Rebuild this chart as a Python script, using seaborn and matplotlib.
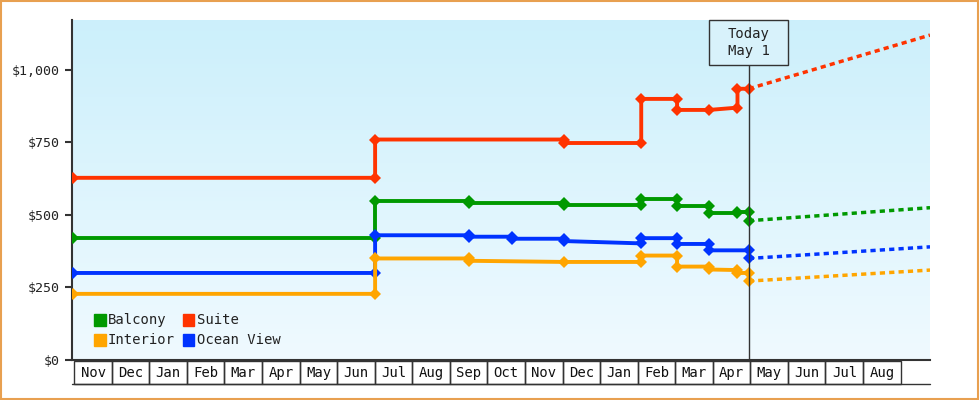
import matplotlib
matplotlib.use("Agg")
import matplotlib.pyplot as plt
import seaborn as sns
import numpy as np
import pandas as pd
from matplotlib.patches import Rectangle
from matplotlib.transforms import blended_transform_factory

months = ["Nov","Dec","Jan","Feb","Mar","Apr","May","Jun","Jul","Aug","Sep","Oct",
          "Nov","Dec","Jan","Feb","Mar","Apr","May","Jun","Jul","Aug"]

suite_x = [0, 8, 8, 13.0, 13.0, 15.05, 15.05, 16.0, 16.0, 16.85, 17.6, 17.6, 17.9]
suite_y = [628, 628, 760, 760, 748, 748, 900, 900, 862, 862, 870, 935, 935]
balc_x = [0, 8, 8, 10.5, 10.5, 13.0, 13.0, 15.05, 15.05, 16.0, 16.0, 16.85, 16.85, 17.6, 17.6, 17.9, 17.9]
balc_y = [420, 420, 548, 548, 540, 540, 535, 535, 555, 555, 530, 530, 507, 507, 510, 510, 480]
ocean_x = [0, 8, 8, 10.5, 10.5, 11.63, 11.63, 13.0, 13.0, 15.05, 15.05, 16.0, 16.0, 16.85, 16.85, 17.9, 17.9]
ocean_y = [300, 300, 430, 430, 425, 425, 418, 418, 410, 402, 420, 420, 400, 400, 378, 378, 350]
inter_x = [0, 8, 8, 10.5, 10.5, 13.0, 15.05, 15.05, 16.0, 16.0, 16.85, 16.85, 17.6, 17.6, 17.9, 17.9]
inter_y = [228, 228, 350, 350, 342, 338, 338, 360, 360, 322, 322, 312, 310, 300, 300, 272]
proj_x = [17.9, 22.7]
proj = {"Suite": [935, 1120], "Balcony": [480, 525], "Ocean View": [350, 390], "Interior": [272, 310]}

colors = {"Balcony": "#009900", "Suite": "#ff3300", "Interior": "#ffa500", "Ocean View": "#0033ff"}

sns.set_style("white")
plt.rcParams['font.family'] = ['DejaVu Sans Mono']

fig = plt.figure(figsize=(9.8, 4.0), dpi=100)
fig.patch.set_facecolor("white")
fig.add_artist(Rectangle((0.001, 0.002), 0.997, 0.995, transform=fig.transFigure,
                         fill=False, edgecolor="#e8a050", lw=1.5))
ax = fig.add_axes([72/980, 40/400, 858/980, 340/400])
xmin, xmax = -0.03, 22.7
ax.set_xlim(xmin, xmax)
ax.set_ylim(0, 1172)
grad = np.linspace(1, 0, 256).reshape(-1, 1)
top = np.array([0.80, 0.94, 0.985]); bot = np.array([0.94, 0.98, 1.0])
img = bot + (top - bot) * grad[..., None]
ax.imshow(img, extent=[xmin, xmax, 0, 1172], aspect="auto", zorder=0)

series = [("Suite", suite_x, suite_y), ("Balcony", balc_x, balc_y),
          ("Ocean View", ocean_x, ocean_y), ("Interior", inter_x, inter_y)]
for name, xs, ys in series:
    df = pd.DataFrame({"x": xs, "y": ys})
    sns.lineplot(data=df, x="x", y="y", sort=False, estimator=None, ax=ax,
                 color=colors[name], lw=2.8, marker="D", markersize=6,
                 markeredgewidth=0, zorder=3)
    sns.lineplot(x=proj_x, y=proj[name], ax=ax, color=colors[name], lw=2.5,
                 linestyle=(0, (1.5, 1.2)), zorder=3)

ax.axvline(17.9, ymin=0, ymax=(1172-155)/1172, color="#333333", lw=1, zorder=4)
# Today box (80 x 40 px)
ax.add_patch(Rectangle((17.9 - 1.05, 1017), 2.1, 155, fc="#d8f2fb", ec="#333333", lw=1,
                       zorder=5, clip_on=False))
ax.text(17.9, 1095, "Today\nMay 1", ha="center", va="center", fontsize=10,
        linespacing=1.3, zorder=6, color="#222222")

ax.set_yticks([0, 250, 500, 750, 1000])
ax.set_yticklabels(["$0", "$250", "$500", "$750", "$1,000"], fontsize=9.5, color="#222222")
ax.tick_params(axis="y", length=5, width=1.5, color="#333333", left=True)
ax.set_xticks([])
ax.set_xlabel(""); ax.set_ylabel("")
for s in ["top", "right"]:
    ax.spines[s].set_visible(False)
ax.spines["left"].set_color("#333333"); ax.spines["left"].set_linewidth(1.5)
ax.spines["bottom"].set_color("#333333"); ax.spines["bottom"].set_linewidth(1.5)

tr = blended_transform_factory(ax.transData, ax.transAxes)
yb0, yb1 = -0.072, -0.004
for i, m in enumerate(months):
    ax.add_patch(Rectangle((i * 0.995 + 0.03, yb0), 0.995, yb1 - yb0, transform=tr, clip_on=False,
                           fill=False, edgecolor="#333333", lw=1))
    ax.text(i * 0.995 + 0.53, (yb0 + yb1) / 2, m, transform=tr, ha="center", va="center",
            fontsize=10, color="#111111")
ax.plot([xmin, xmax], [yb0, yb0], transform=tr, clip_on=False, color="#333333", lw=1)

leg = [("Balcony", 0.55, 138), ("Suite", 2.9, 138), ("Interior", 0.55, 69), ("Ocean View", 2.9, 69)]
for name, lx, ly in leg:
    ax.add_patch(Rectangle((lx, ly - 20), 0.31, 40, color=colors[name], zorder=5))
    ax.text(lx + 0.37, ly, name, va="center", fontsize=10, color="#222222", zorder=5)

fig.savefig("out.png", dpi=100)
